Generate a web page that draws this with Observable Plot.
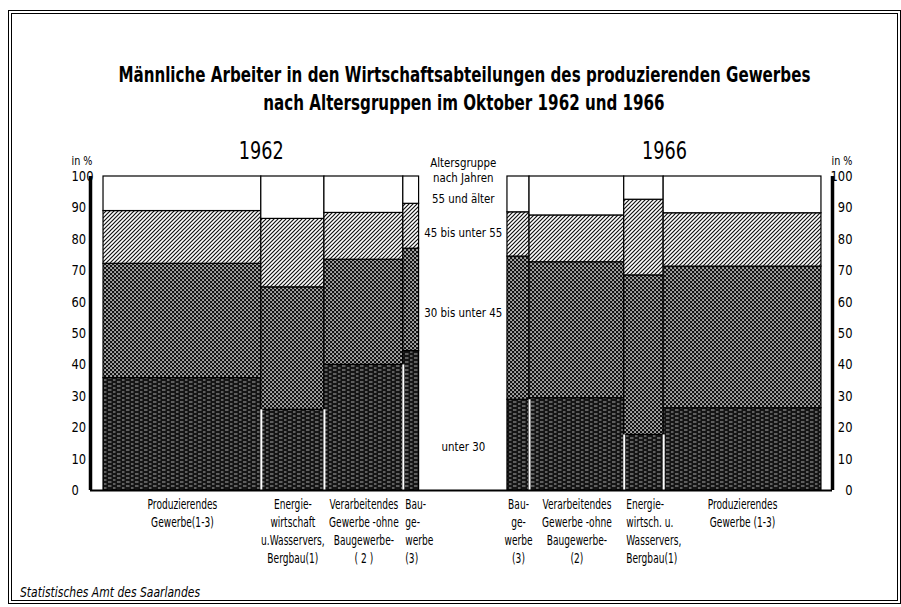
<!DOCTYPE html>
<html><head><meta charset="utf-8">
<script src="https://cdn.jsdelivr.net/npm/d3@7"></script>
<script src="https://cdn.jsdelivr.net/npm/@observablehq/plot@0.6"></script>
<style>
html,body{margin:0;padding:0;background:#fff;}
#page{position:relative;width:901px;height:607px;overflow:hidden;background:#fff;font-family:"DejaVu Sans",sans-serif;color:#000;}
#frame{position:absolute;left:8px;top:10px;width:893px;height:594px;border:4px double #000;box-sizing:border-box;pointer-events:none;}
.tline{position:absolute;left:-536px;width:2000px;text-align:center;font-weight:bold;font-size:22px;line-height:28px;white-space:nowrap;}
.tline span{display:inline-block;transform-origin:50% 50%;}
#plot{position:absolute;top:125px;left:0;}
#caption{position:absolute;left:20px;top:584px;font-style:italic;font-size:14px;white-space:nowrap;transform-origin:0 50%;}
</style></head>
<body>
<div id="page">
  <div class="tline" style="top:61px"><span id="t1">Männliche Arbeiter in den Wirtschaftsabteilungen des produzierenden Gewerbes</span></div>
  <div class="tline" style="top:89px"><span id="t2">nach Altersgruppen im Oktober 1962 und 1966</span></div>
  <div id="plot"></div>
  <div id="caption">Statistisches Amt des Saarlandes</div>
  <div id="frame"></div>
</div>
<script>
// ---------- data ----------
const years = ["1962", "1966"];
const ageGroups = ["unter 30", "30 bis unter 45", "45 bis unter 55", "55 und älter"];
const ageLegendTitle = "Altersgruppe\nnach Jahren";
const yTicks = [0, 10, 20, 30, 40, 50, 60, 70, 80, 90, 100];

const labels1962 = ["Produzierendes\nGewerbe(1-3)", "Energie-\nwirtschaft\nu.Wasservers,\nBergbau(1)", "Verarbeitendes\nGewerbe -ohne\nBaugewerbe-\n( 2 )", "Bau-\nge-\nwerbe\n(3)"];
const share1962 = [100, 40, 50, 10];           // relative bar widths
const unter30_1962 = [35.8, 25.7, 40.0, 44.4];
const a30bis45_1962 = [36.4, 39.0, 33.5, 32.6];
const a45bis55_1962 = [16.8, 21.8, 14.9, 14.3];
const ab55_1962 = [11.0, 13.5, 11.6, 8.7];

const labels1966 = ["Bau-\nge-\nwerbe\n(3)", "Verarbeitendes\nGewerbe -ohne\nBaugewerbe-\n(2)", "Energie-\nwirtsch. u.\nWasservers,\nBergbau(1)", "Produzierendes\nGewerbe (1-3)"];
const share1966 = [14, 60, 25, 100];
const unter30_1966 = [28.9, 29.4, 17.7, 26.2];
const a30bis45_1966 = [45.6, 43.3, 50.8, 45.1];
const a45bis55_1966 = [14.1, 14.9, 24.1, 17.0];
const ab55_1966 = [11.4, 12.4, 7.4, 11.7];

// ---------- layout ----------
const panelGap = 56, padLeft = 8.25, padRight = 7;
const ageLabelY = [14, 56.5, 82, 93];
const startAligned = {"1962": [3], "1966": [2]};
const patternOf = {"unter 30": "url(#pU30)", "30 bis unter 45": "url(#p30)", "45 bis unter 55": "url(#p45)", "55 und älter": "url(#p55)"};

function buildPanel(year, labels, shares, groupVals, x0) {
  const segs = [], bars = [];
  let x = x0;
  shares.forEach((w, i) => {
    let y = 0;
    ageGroups.forEach((g, j) => {
      const v = groupVals[j][i];
      segs.push({year, bar: i, group: g, x1: x, x2: x + w, y1: y, y2: j === ageGroups.length - 1 ? 100 : y + v, fill: patternOf[g]});
      y += v;
    });
    bars.push({year, i, label: labels[i], x1: x, x2: x + w, xc: x + w / 2, u30: groupVals[0][i]});
    x += w;
  });
  return {segs, bars, x0, x1: x};
}
const p62 = buildPanel("1962", labels1962, share1962, [unter30_1962, a30bis45_1962, a45bis55_1962, ab55_1962], 0);
const p66 = buildPanel("1966", labels1966, share1966, [unter30_1966, a30bis45_1966, a45bis55_1966, ab55_1966], p62.x1 + panelGap);
const panels = [p62, p66];
const segments = panels.flatMap(p => p.segs);
const bars = panels.flatMap(p => p.bars);
const separators = panels.flatMap(p => p.bars.slice(1).map((b, k) => ({x: b.x1, top: Math.min(b.u30, p.bars[k].u30)})));
const xMin = -padLeft, xMax = p66.x1 + padRight;
const gapCenter = (p62.x1 + p66.x0) / 2;
const yearLabels = years.map((y, i) => ({text: y, x: (panels[i].x0 + panels[i].x1) / 2}));
const midLabels = bars.filter(b => !(startAligned[b.year] || []).includes(b.i));
const startLabels = bars.filter(b => (startAligned[b.year] || []).includes(b.i));

// horizontal condensing (no condensed font installed): scale = target width / natural width
const ctx = document.createElement("canvas").getContext("2d");
function fit(str, css, target) { ctx.font = css + ' "DejaVu Sans"'; return target / ctx.measureText(str).width; }
const sTick = fit("100", "14px", 22);
const sIn = fit("in %", "12px", 21);
const sYear = fit("1962", "24px", 45);
const sLegend = fit("45 bis unter 55", "13px", 78);
const sCat = fit("Verarbeitendes", "13.5px", 69);

const chart = Plot.plot({
  width: 901, height: 455,
  marginLeft: 90, marginRight: 69, marginTop: 51, marginBottom: 90,
  style: {fontFamily: '"DejaVu Sans", sans-serif', background: "transparent", color: "#000"},
  x: {domain: [xMin, xMax], axis: null},
  y: {domain: [0, 100], axis: null},
  color: {type: "identity"},
  marks: [
    Plot.rect(segments, {x1: "x1", x2: "x2", y1: "y1", y2: "y2", fill: "fill", stroke: "#000", strokeWidth: 1.2}),
    Plot.ruleX(separators, {x: "x", y1: 0, y2: "top", stroke: "#fff", strokeWidth: 2}),
    Plot.ruleY([0], {x1: xMin, x2: xMax, stroke: "#000", strokeWidth: 2}),
    Plot.ruleX([xMin], {y1: 0, y2: 100, stroke: "#000", strokeWidth: 3.5}),
    Plot.ruleX([xMax], {y1: 0, y2: 100, stroke: "#000", strokeWidth: 3.5}),
    Plot.text(yTicks, {y: d => d, text: d => String(d), frameAnchor: "left", dx: -19, fontSize: 14}),
    Plot.text(yTicks, {y: d => d, text: d => String(d), frameAnchor: "right", dx: 20, fontSize: 14}),
    Plot.text(["in %"], {frameAnchor: "top-left", dx: -19, dy: -20, fontSize: 12}),
    Plot.text(["in %"], {frameAnchor: "top-right", dx: 20, dy: -20, fontSize: 12}),
    Plot.text(yearLabels, {x: "x", y: 100, dy: -25, text: "text", fontSize: 24}),
    Plot.text([ageLegendTitle], {x: gapCenter, y: 100, dy: 5, lineAnchor: "bottom", lineHeight: 1.15, fontSize: 13}),
    Plot.text(ageGroups, {x: gapCenter, y: (d, i) => ageLabelY[i], text: d => d, fontSize: 13}),
    Plot.text(midLabels, {x: "xc", y: 0, text: "label", lineAnchor: "top", dy: 6, lineHeight: 1.33, fontSize: 13.5}),
    Plot.text(startLabels, {x: "x1", y: 0, text: "label", lineAnchor: "top", textAnchor: "start", dx: 2, dy: 6, lineHeight: 1.33, fontSize: 13.5})
  ]
});

// fill patterns used by the rect mark
const defs = d3.select(chart).insert("defs", ":first-child");
const p55 = defs.append("pattern").attr("id", "p55").attr("patternUnits", "userSpaceOnUse").attr("width", 4).attr("height", 4);
p55.append("rect").attr("width", 4).attr("height", 4).attr("fill", "#fff");
const p45 = defs.append("pattern").attr("id", "p45").attr("patternUnits", "userSpaceOnUse").attr("width", 4).attr("height", 4);
p45.append("rect").attr("width", 4).attr("height", 4).attr("fill", "#fff");
p45.append("path").attr("d", "M-1,1L1,-1M0,4L4,0M3,5L5,3").attr("stroke", "#111").attr("stroke-width", 1.2);
const p30 = defs.append("pattern").attr("id", "p30").attr("patternUnits", "userSpaceOnUse").attr("width", 4).attr("height", 4);
p30.append("rect").attr("width", 4).attr("height", 4).attr("fill", "#111");
p30.append("rect").attr("x", 0.3).attr("y", 0.3).attr("width", 1.5).attr("height", 1.5).attr("fill", "#fff");
p30.append("rect").attr("x", 2.3).attr("y", 2.3).attr("width", 1.5).attr("height", 1.5).attr("fill", "#fff");
const pU = defs.append("pattern").attr("id", "pU30").attr("patternUnits", "userSpaceOnUse").attr("width", 9).attr("height", 4);
pU.append("rect").attr("width", 9).attr("height", 4).attr("fill", "#141414");
pU.append("rect").attr("x", 0).attr("y", 0.6).attr("width", 3.5).attr("height", 0.8).attr("fill", "#ccc");
pU.append("rect").attr("x", 5).attr("y", 2.6).attr("width", 2.5).attr("height", 0.8).attr("fill", "#ccc");

// condense each text mark horizontally around its anchor
const scales = [sTick, sTick, sIn, sIn, sYear, sLegend, sLegend, sCat, sCat];
chart.querySelectorAll('g[aria-label="text"]').forEach((g, k) => {
  const s = scales[k] ?? 1;
  g.querySelectorAll("text").forEach(t => t.setAttribute("transform", (t.getAttribute("transform") || "") + ` scale(${s},1)`));
});

document.getElementById("plot").appendChild(chart);

// title and caption condensing
function fitEl(id, target, css) { const el = document.getElementById(id); el.style.transform = `scaleX(${fit(el.textContent, css, target)})`; }
const sTitle = fit(document.getElementById("t1").textContent, "bold 22px", 692);
document.getElementById("t1").style.transform = `scaleX(${sTitle})`;
document.getElementById("t2").style.transform = `scaleX(${sTitle})`;
fitEl("caption", 180, "italic 14px");
</script>
</body></html>
